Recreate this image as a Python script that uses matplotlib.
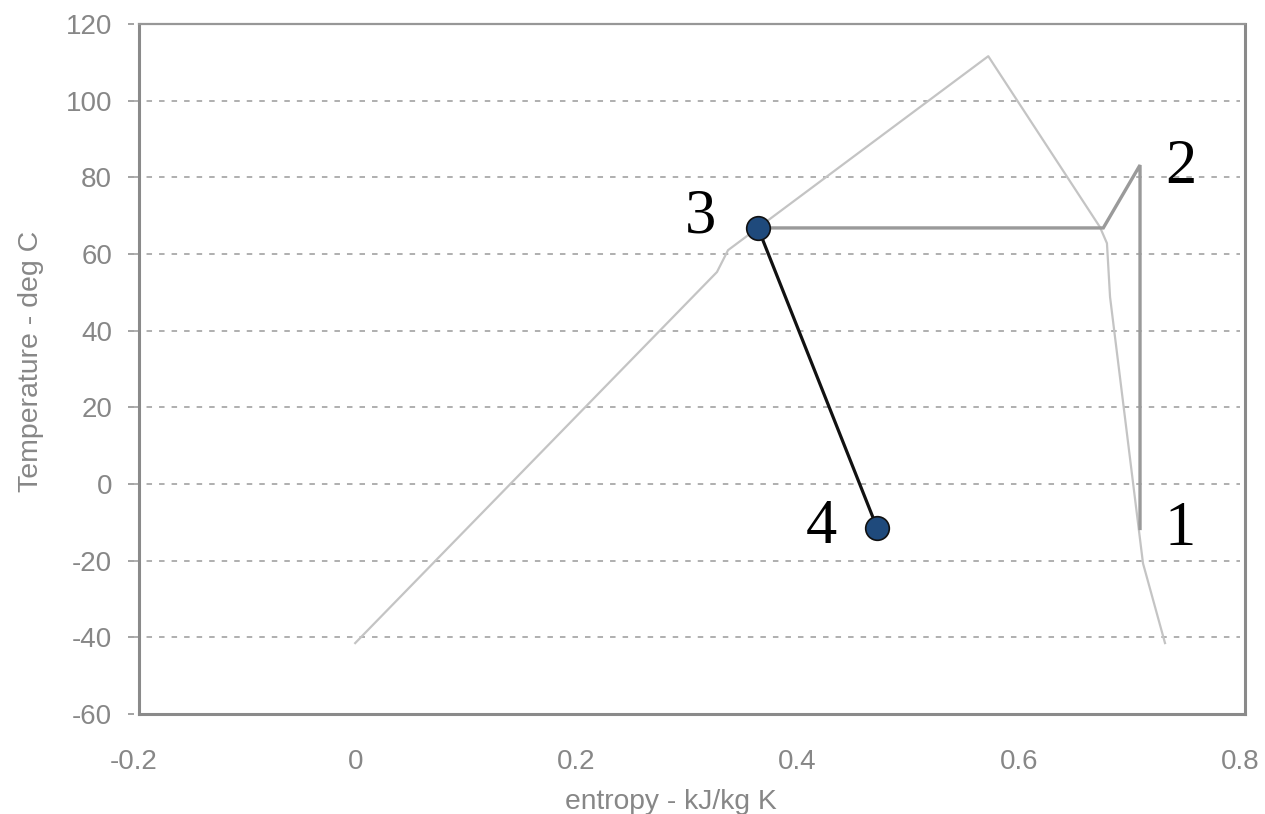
import matplotlib
matplotlib.use("Agg")
import matplotlib.pyplot as plt

plt.rcParams["font.family"] = ["Liberation Sans", "DejaVu Sans"]
plt.rcParams["axes.unicode_minus"] = False

# Saturation dome (liquid line -> critical point -> vapour line)
dome_s = [0.000, 0.3271, 0.3371, 0.5724, 0.6734, 0.6797, 0.6825, 0.7123, 0.7322]
dome_t = [-41.5, 55.3, 61.0, 111.6, 67.0, 62.8, 48.8, -20.7, -41.5]

# Cycle path 1 -> 2 -> condenser -> 3
cycle_s = [0.7096, 0.7096, 0.6764, 0.3642]
cycle_t = [-11.6, 83.2, 66.8, 66.8]

# Throttling 3 -> 4
throttle_s = [0.3642, 0.4721]
throttle_t = [66.8, -11.6]

# State labels
state_names = ["1", "2", "3", "4"]
state_label_s = [0.7458, 0.7467, 0.3118, 0.4212]
state_label_t = [-16.0, 78.5, 65.7, -15.5]

x_ticks = [-0.2, 0, 0.2, 0.4, 0.6, 0.8]
x_tick_labels = ["-0.2", "0", "0.2", "0.4", "0.6", "0.8"]
y_ticks = [-60, -40, -20, 0, 20, 40, 60, 80, 100, 120]

W, H, DPI = 1265, 814, 100
fig = plt.figure(figsize=(W / DPI, H / DPI), dpi=DPI)
ax = fig.add_axes([134 / W, (H - 714) / H, 1106 / W, 690 / H])

ax.set_xlim(-0.2, 0.8)
ax.set_ylim(-60, 120)

grey_txt = "#878787"
for sp in ax.spines.values():
    sp.set_visible(False)

# dashed horizontal gridlines for interior ticks
for yv in y_ticks[1:-1]:
    ax.axhline(yv, color="#9a9a9a", lw=1.1, ls=(0, (3.6, 4.6)), zorder=0)

ax.plot(dome_s, dome_t, color="#c4c4c4", lw=1.6, zorder=2)
ax.plot(cycle_s, cycle_t, color="#9a9a9a", lw=2.4, zorder=3,
        solid_joinstyle="miter")
ax.plot(throttle_s, throttle_t, color="#111111", lw=2.3, zorder=4,
        marker="o", markersize=17, markerfacecolor="#1f4a7c",
        markeredgecolor="#111111", markeredgewidth=1.2)

for name, sx, ty in zip(state_names, state_label_s, state_label_t):
    ax.text(sx, ty, name, ha="center", va="baseline", fontsize=45,
            family=["Liberation Serif", "DejaVu Serif"], color="black",
            zorder=5)

# plot-area frame, offset slightly to the right of the value grid
off = 5 / 1106
frame_c = "#8a8a8a"
ax.plot([off, off], [0, 1], transform=ax.transAxes, color=frame_c, lw=2.2,
        clip_on=False, solid_capstyle="projecting", zorder=6)
ax.plot([1 + off, 1 + off], [0, 1], transform=ax.transAxes, color=frame_c,
        lw=2.2, clip_on=False, solid_capstyle="projecting", zorder=6)
ax.plot([off, 1 + off], [0, 0], transform=ax.transAxes, color=frame_c,
        lw=2.2, clip_on=False, solid_capstyle="projecting", zorder=6)
ax.plot([off, 1 + off], [1, 1], transform=ax.transAxes, color="#979797",
        lw=1.6, clip_on=False, solid_capstyle="projecting", zorder=6)

ax.set_xticks(x_ticks)
ax.set_xticklabels(x_tick_labels)
ax.set_yticks(y_ticks)
ax.tick_params(axis="x", length=0, pad=25.5, labelsize=20, labelcolor=grey_txt)
ax.tick_params(axis="y", direction="out", length=4.3, width=1.1,
               color="#8a8a8a", pad=11.5, labelsize=20, labelcolor=grey_txt)

ax.set_xlabel("entropy - kJ/kg K", fontsize=20.3, color=grey_txt)
ax.xaxis.set_label_coords(0.4855, -0.108)
ax.set_ylabel("Temperature - deg C", fontsize=20.5, color=grey_txt)
ax.yaxis.set_label_coords(-0.0814, 0.5116)

fig.savefig("out.png", dpi=DPI, facecolor="white")
